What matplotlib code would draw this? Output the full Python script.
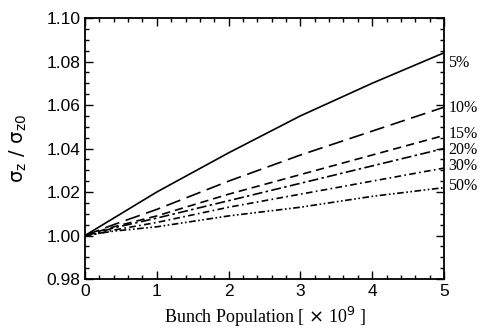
import matplotlib.pyplot as plt
from matplotlib.ticker import MultipleLocator

# bunch population [x 1e9]
population = [0, 0.2, 0.4, 1, 2, 3, 4, 5]

ratio_5 = [1.000, 1.004, 1.008, 1.020, 1.038, 1.055, 1.070, 1.084]
ratio_10 = [1.000, 1.0025, 1.005, 1.012, 1.025, 1.037, 1.048, 1.059]
ratio_15 = [1.000, 1.002, 1.004, 1.009, 1.019, 1.028, 1.037, 1.046]
ratio_20 = [1.000, 1.0015, 1.0035, 1.008, 1.016, 1.024, 1.032, 1.040]
ratio_30 = [1.000, 1.001, 1.0025, 1.006, 1.013, 1.019, 1.025, 1.031]
ratio_50 = [1.000, 1.001, 1.002, 1.004, 1.009, 1.013, 1.018, 1.022]

labels = ['5%', '10%', '15%', '20%', '30%', '50%']
label_y = [1.0793, 1.0586, 1.0468, 1.0394, 1.0318, 1.0228]

series = [ratio_5, ratio_10, ratio_15, ratio_20, ratio_30, ratio_50]
styles = ['-', (0, (9, 4)), (0, (5, 3)), (0, (6, 2, 1.5, 2)),
          (0, (4, 2, 1, 2)), (0, (4, 1.5, 1, 1.5, 1, 1.5))]

plt.rcParams['mathtext.fontset'] = 'dejavusans'

fig = plt.figure(figsize=(4.86, 3.31), dpi=100)
ax = fig.add_axes([85 / 486, 1 - 279 / 331, 359 / 486, 261 / 331])

for ys, ls in zip(series, styles):
    ax.plot(population, ys, color='black', linestyle=ls, linewidth=1.2)

for lab, y in zip(labels, label_y):
    ax.text(5.06, y, lab, family='Liberation Serif', fontsize=11.5, va='center', ha='left')

ax.set_xlim(0, 5)
ax.set_ylim(0.98, 1.10)
ax.xaxis.set_major_locator(MultipleLocator(1))
ax.xaxis.set_minor_locator(MultipleLocator(0.2))
ax.yaxis.set_minor_locator(MultipleLocator(0.005))
ax.set_yticks([0.98, 1.00, 1.02, 1.04, 1.06, 1.08, 1.10])
ax.set_yticklabels(['0.98', '1.00', '1.02', '1.04', '1.06', '1.08', '1.10'])
ax.tick_params(which='both', direction='in', top=True, right=True, width=1)
ax.tick_params(which='major', length=6, labelsize=12.5)
ax.tick_params(which='minor', length=3)
for lab in ax.get_xticklabels() + ax.get_yticklabels():
    lab.set_family('Liberation Sans')
for sp in ax.spines.values():
    sp.set_linewidth(1.3)

ax.set_xlabel(r'Bunch Population [ $\times$ 10$^9$ ]', family='Liberation Serif',
              fontsize=13, labelpad=4)
ax.set_ylabel(r'$\mathregular{\sigma_z\ /\ \sigma_{z0}}$', fontsize=14, labelpad=12)

fig.savefig('out.png', dpi=100)
